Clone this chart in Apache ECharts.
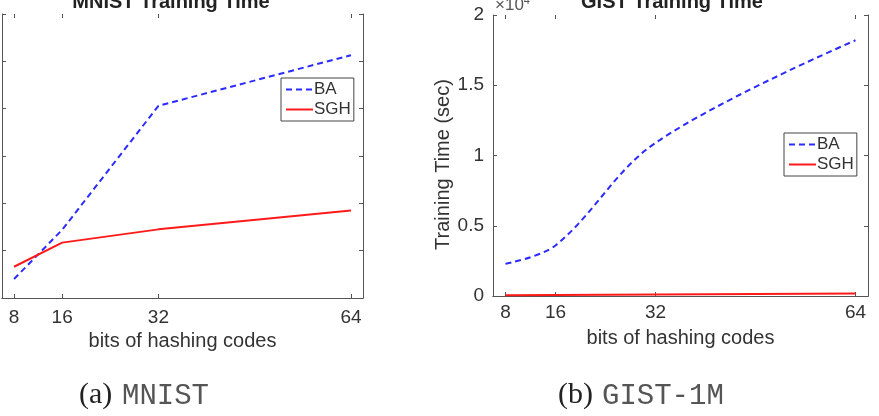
<!DOCTYPE html>
<html>
<head>
<meta charset="utf-8">
<script src="https://cdn.jsdelivr.net/npm/echarts@6/dist/echarts.min.js"></script>
<style>
  html, body { margin: 0; padding: 0; background: #fff; }
  #chart { width: 879px; height: 416px; }
</style>
</head>
<body>
<div id="chart"></div>
<script>
// bits of hashing codes
var bits = [8, 16, 32, 64];
// MNIST training time (y tick labels are outside the picture, units are tick steps)
var mnistBA = [0.40, 1.44, 4.06, 5.13];
var mnistSGH = [0.66, 1.17, 1.45, 1.85];
// GIST-1M training time in seconds
var gistBA = [2300, 3600, 10900, 18200];
var gistSGH = [60, 80, 110, 170];

var axisColor = '#555';
var textColor = '#333';
var font = 'Liberation Sans';

function pairs(xs, ys) {
  return xs.map(function (x, i) { return [x, ys[i]]; });
}

function xAxes(gi, labelMargin, nameGap) {
  return [{
    gridIndex: gi, type: 'value', min: 6, max: 66,
    position: 'bottom',
    name: 'bits of hashing codes', nameLocation: 'middle', nameGap: nameGap,
    nameTextStyle: { fontFamily: font, fontSize: 20, color: textColor },
    axisLine: { lineStyle: { color: axisColor, width: 1 } },
    axisTick: { show: false },
    axisLabel: {
      fontFamily: font, fontSize: 19, color: textColor, margin: labelMargin,
      customValues: bits
    },
    splitLine: { show: false }
  }, {
    gridIndex: gi, type: 'value', min: 6, max: 66,
    position: 'top',
    axisLine: { lineStyle: { color: axisColor, width: 1 } },
    axisTick: { show: false },
    axisLabel: { show: false },
    splitLine: { show: false }
  }, {
    // inward tick marks at the bits positions, bottom side
    gridIndex: gi, type: 'value', min: 6, max: 66, position: 'bottom',
    axisLine: { show: false },
    axisTick: { inside: true, length: 4, lineStyle: { color: axisColor }, customValues: bits },
    axisLabel: { show: false },
    splitLine: { show: false }
  }, {
    gridIndex: gi, type: 'value', min: 6, max: 66, position: 'top',
    axisLine: { show: false },
    axisTick: { inside: true, length: 4, lineStyle: { color: axisColor }, customValues: bits },
    axisLabel: { show: false },
    splitLine: { show: false }
  }];
}

function yAxes(gi, min, max, interval, showLabels, formatter) {
  return [{
    gridIndex: gi, type: 'value', min: min, max: max, interval: interval,
    position: 'left',
    axisLine: { show: true, lineStyle: { color: axisColor, width: 1 } },
    axisTick: { show: true, inside: true, length: 4, lineStyle: { color: axisColor } },
    axisLabel: { show: showLabels, fontFamily: font, fontSize: 19, color: textColor, margin: 9, formatter: formatter },
    splitLine: { show: false }
  }, {
    gridIndex: gi, type: 'value', min: min, max: max, interval: interval,
    position: 'right',
    axisLine: { show: true, lineStyle: { color: axisColor, width: 1 } },
    axisTick: { show: true, inside: true, length: 4, lineStyle: { color: axisColor } },
    axisLabel: { show: false },
    splitLine: { show: false }
  }];
}

var chart = echarts.init(document.getElementById('chart'), null, { renderer: 'canvas' });

var xs = xAxes(0, 10, 32).concat(xAxes(1, 7, 32));
var ys = yAxes(0, 0, 6, 1, false).concat(
  yAxes(1, 0, 20000, 5000, true, function (v) { return String(v / 10000); })
);
ys[2].name = 'Training Time (sec)';
ys[2].nameLocation = 'middle';
ys[2].nameGap = 40;
ys[2].nameTextStyle = { fontFamily: font, fontSize: 20, color: textColor, padding: [0, 18, 0, 0] };

var baStyle = { color: '#2b2bff', width: 2, type: [6, 4] };
var sghStyle = { color: '#ff1a1a', width: 2 };

var legendBase = {
  data: ['BA', 'SGH'], orient: 'vertical',
  backgroundColor: '#fff', borderColor: '#444', borderWidth: 1, borderRadius: 0,
  padding: [3, 3, 3, 4], itemGap: 3, itemWidth: 27, itemHeight: 14,
  itemStyle: { opacity: 0, color: 'transparent', borderWidth: 0 },
  textStyle: { fontFamily: font, fontSize: 17, color: textColor, padding: [0, 0, 0, -4] }
};

var serif = { fontFamily: 'Liberation Serif', fontSize: 30, fill: '#222' };
var mono = { fontFamily: 'Liberation Mono', fontSize: 29, fill: '#555' };

chart.setOption({
  animation: false,
  backgroundColor: '#fff',
  title: [{
    text: 'MNIST Training Time', left: 166, top: -13, textAlign: 'center',
    textStyle: { fontFamily: font, fontSize: 20, fontWeight: 'bold', color: '#222' }
  }, {
    text: 'GIST Training Time', left: 667, top: -13, textAlign: 'center',
    textStyle: { fontFamily: font, fontSize: 20, fontWeight: 'bold', color: '#222' }
  }],
  grid: [
    { left: 2, top: 14, width: 361, height: 284 },
    { left: 493, top: 15, width: 375, height: 281 }
  ],
  xAxis: xs,
  yAxis: ys,
  legend: [
    Object.assign({}, legendBase, { left: 281, top: 78 }),
    Object.assign({}, legendBase, { left: 784, top: 133 })
  ],
  series: [{
    name: 'BA', type: 'line', xAxisIndex: 0, yAxisIndex: 0,
    data: pairs(bits, mnistBA), symbol: 'none', lineStyle: baStyle, itemStyle: { color: baStyle.color }
  }, {
    name: 'SGH', type: 'line', xAxisIndex: 0, yAxisIndex: 0,
    data: pairs(bits, mnistSGH), symbol: 'none', lineStyle: sghStyle, itemStyle: { color: sghStyle.color }
  }, {
    name: 'BA', type: 'line', xAxisIndex: 4, yAxisIndex: 2, smooth: 0.35,
    data: pairs(bits, gistBA), symbol: 'none', lineStyle: baStyle, itemStyle: { color: baStyle.color }
  }, {
    name: 'SGH', type: 'line', xAxisIndex: 4, yAxisIndex: 2,
    data: pairs(bits, gistSGH), symbol: 'none', lineStyle: sghStyle, itemStyle: { color: sghStyle.color }
  }],
  graphic: [{
    type: 'text', left: 495, top: -5,
    style: {
      text: '×10{sup|4}', fontFamily: font, fontSize: 17, fill: '#555',
      rich: { sup: { fontSize: 11, verticalAlign: 'top', padding: [0, 0, 9, 0] } }
    }
  },
  { type: 'text', left: 79, top: 380, style: Object.assign({ text: '(a)' }, serif) },
  { type: 'text', left: 122, top: 382, style: Object.assign({ text: 'MNIST' }, mono) },
  { type: 'text', left: 558, top: 380, style: Object.assign({ text: '(b)' }, serif) },
  { type: 'text', left: 602, top: 382, style: Object.assign({ text: 'GIST-1M' }, mono) }
  ]
});
</script>
</body>
</html>
